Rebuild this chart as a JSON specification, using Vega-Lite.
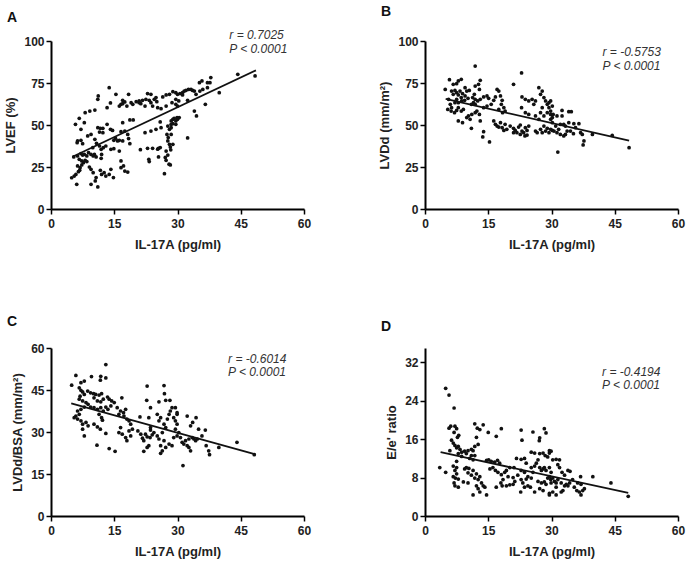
{
"$schema": "https://vega.github.io/schema/vega-lite/v6.json",
"background": "white",
"padding": {"left": 4, "top": 4, "right": 5, "bottom": 5},
"config": {
  "view": {"stroke": null},
  "axis": {"grid": false, "domainColor": "#000", "domainWidth": 2, "tickColor": "#000", "tickWidth": 1.5, "tickSize": 5, "labelFont": "Liberation Sans", "labelFontSize": 12, "labelFontWeight": "bold", "labelColor": "#222", "labelPadding": 2, "titleFont": "Liberation Sans", "titleFontSize": 13, "titleFontWeight": "bold", "titleColor": "#222", "titlePadding": 6},
  "axisX": {"labelFlush": false, "labelPadding": 4, "titlePadding": 9},
  "title": {"font": "Liberation Sans", "fontSize": 14, "fontWeight": "bold", "color": "#111"},
  "text": {"font": "Liberation Sans", "fontSize": 12, "fontStyle": "italic", "color": "#333", "align": "left", "baseline": "middle"}
},
"datasets": {
  "A": [
    {"x":13.8,"y":72.2},{"x":11.2,"y":67.3},{"x":11.1,"y":65.3},{"x":15.4,"y":68.3},{"x":18.4,"y":68.3},{"x":17,"y":64.7},{"x":17.5,"y":63.7},{"x":16.6,"y":62.3},{"x":16.2,"y":61.3},{"x":8.1,"y":57.3},{"x":9.2,"y":58.3},{"x":10.4,"y":58.9},{"x":13.3,"y":60.3},{"x":14.1,"y":63.1},{"x":6.7,"y":54},{"x":5.8,"y":50.4},{"x":7.9,"y":51.4},{"x":7.1,"y":47.4},{"x":11.1,"y":48.4},{"x":11.7,"y":48},{"x":12.3,"y":48},{"x":11.5,"y":45.8},{"x":12.3,"y":45.4},{"x":13.3,"y":50.4},{"x":14.1,"y":47.4},{"x":14.6,"y":46.8},{"x":17,"y":51.4},{"x":18.7,"y":53},{"x":19.5,"y":53},{"x":16.6,"y":46},{"x":17.5,"y":46.4},{"x":18.2,"y":44.4},{"x":18.4,"y":41.9},{"x":18.7,"y":38.9},{"x":15.8,"y":40.5},{"x":16.2,"y":40.9},{"x":17,"y":40.5},{"x":14.9,"y":40.9},{"x":15.3,"y":42.1},{"x":6.3,"y":40.5},{"x":6.2,"y":39.5},{"x":7.5,"y":38.9},{"x":7.1,"y":40.9},{"x":8.7,"y":43.5},{"x":9.5,"y":44.4},{"x":10.4,"y":41.5},{"x":10.8,"y":39.1},{"x":9.9,"y":36.5},{"x":11.5,"y":37.5},{"x":11.9,"y":35.5},{"x":12.4,"y":36.5},{"x":13,"y":37.5},{"x":12,"y":32.5},{"x":11.9,"y":30.2},{"x":14.2,"y":35.5},{"x":14.9,"y":35.9},
    {"x":5.4,"y":31},{"x":6.3,"y":31.6},{"x":7.1,"y":33},{"x":7.5,"y":32.1},{"x":7.9,"y":32.5},{"x":8.5,"y":31.6},{"x":8.9,"y":33.5},{"x":9.5,"y":32.5},{"x":10,"y":31.6},{"x":10.3,"y":32.5},{"x":10.7,"y":31},{"x":6.7,"y":29.6},{"x":7.3,"y":28.6},{"x":7.7,"y":27.6},{"x":8.1,"y":29},{"x":8.5,"y":28.2},{"x":6.3,"y":25.6},{"x":6.9,"y":24.6},{"x":7.3,"y":26.2},{"x":6.8,"y":23},{"x":6.5,"y":22.2},{"x":5.9,"y":20.6},{"x":5.5,"y":19.6},{"x":4.9,"y":18.6},{"x":6.1,"y":14.7},
    {"x":9.5,"y":23.6},{"x":10,"y":21.6},{"x":9.1,"y":25},{"x":11.7,"y":23},{"x":12,"y":20.6},{"x":12.6,"y":21.6},{"x":13,"y":19.6},{"x":13.8,"y":20.6},{"x":14.2,"y":23.6},{"x":14.8,"y":18.7},{"x":9.5,"y":14.7},{"x":10.5,"y":16.7},{"x":11.1,"y":13.1},{"x":10.7,"y":18.7},{"x":16.6,"y":24.6},{"x":17.2,"y":25.6},{"x":17.5,"y":22.6},{"x":18.2,"y":22},{"x":16.2,"y":34.5},{"x":16.6,"y":28.6},
    {"x":21.2,"y":35.3},{"x":22.9,"y":36.1},{"x":24.1,"y":36.1},{"x":25.5,"y":36.1},{"x":23.2,"y":29.6},{"x":23.3,"y":28.2},{"x":25.5,"y":31},{"x":27.3,"y":29},{"x":26.9,"y":21},{"x":28.3,"y":26.2},{"x":22.3,"y":45.4},{"x":23.7,"y":46.4},{"x":24.9,"y":47.4},{"x":26.1,"y":48.4},{"x":25.9,"y":51.8},
    {"x":27.7,"y":49.4},{"x":28.1,"y":47.4},{"x":28.5,"y":48.4},{"x":27.5,"y":44.4},{"x":27.8,"y":42.5},{"x":27.7,"y":40.5},{"x":28.1,"y":38.5},{"x":28.3,"y":36.9},{"x":27.3,"y":34.5},{"x":27.7,"y":32.1},{"x":28.9,"y":38.5},{"x":28.5,"y":44.4},{"x":28.5,"y":52.4},{"x":28.9,"y":53.4},{"x":29.2,"y":54},{"x":29.9,"y":54.4},{"x":30.4,"y":54.4},{"x":28.5,"y":50.4},{"x":28.9,"y":50.8},
    {"x":19,"y":63.3},{"x":20.2,"y":63.9},{"x":20.9,"y":64.3},{"x":21.7,"y":64.7},{"x":22.5,"y":65.3},{"x":23.3,"y":64.7},{"x":23.7,"y":63.3},{"x":24.5,"y":65.3},{"x":25.1,"y":63.9},{"x":26.5,"y":66.7},{"x":27.3,"y":67.9},{"x":28.1,"y":68.3},{"x":28.9,"y":69.8},{"x":22.9,"y":68.7},{"x":23.7,"y":68.3},{"x":24.9,"y":66.3},{"x":24.1,"y":61.3},{"x":25.3,"y":60.3},{"x":26.1,"y":59.7},{"x":27.3,"y":61.3},{"x":28.7,"y":63.3},{"x":17,"y":62.7},{"x":18,"y":61.3},{"x":19.4,"y":62.3},{"x":20.9,"y":63.3},{"x":21.3,"y":62.7},{"x":22.3,"y":61.3},
    {"x":29.6,"y":69.2},{"x":30,"y":68.3},{"x":30.6,"y":68.7},{"x":31.2,"y":69.2},{"x":31.6,"y":70.2},{"x":32,"y":70.6},{"x":32.6,"y":71.2},{"x":33.2,"y":71.2},{"x":33.6,"y":70.6},{"x":34,"y":70.2},{"x":29.6,"y":65.3},{"x":30.3,"y":64.3},{"x":31.2,"y":67.9},{"x":32.4,"y":64.7},{"x":29.6,"y":62.3},{"x":30,"y":61.3},{"x":29.6,"y":52.4},{"x":30,"y":53.4},{"x":29.6,"y":50.4},
    {"x":35.2,"y":75.2},{"x":35.8,"y":76.2},{"x":37.1,"y":75.2},{"x":37.7,"y":75.2},{"x":37.9,"y":78.2},{"x":37.1,"y":72.2},{"x":36,"y":71.2},{"x":34,"y":58.3},{"x":34.5,"y":55.4},{"x":32.4,"y":42.3},{"x":36.6,"y":62.3},{"x":39.9,"y":69.2},{"x":44.3,"y":80.2},{"x":48.4,"y":79.2},{"x":34.4,"y":68.3},{"x":35.3,"y":70.2},
    {"x":27.1,"y":30.7},{"x":28,"y":26.7},{"x":28.4,"y":35.2},{"x":25.3,"y":35.6},{"x":25.9,"y":36.6}
  ],
  "A_line": [{"x":5.1,"y":31.1},{"x":48.6,"y":82.5}],
  "B": [
    {"x":11.9,"y":85.1},{"x":22.9,"y":81},{"x":21,"y":74.2},{"x":5.8,"y":77},{"x":7.9,"y":76.2},{"x":8.6,"y":77.2},{"x":4.8,"y":71.2},{"x":6.7,"y":74.2},{"x":7.5,"y":74.6},
    {"x":6.3,"y":70.2},{"x":7.1,"y":70.6},{"x":7.5,"y":69.2},{"x":6.7,"y":68.3},{"x":7.9,"y":67.9},{"x":8.3,"y":70.2},{"x":8.9,"y":68.7},{"x":9.5,"y":72.2},{"x":9.9,"y":70.2},{"x":10.5,"y":70.6},{"x":9.5,"y":67.3},{"x":8.6,"y":66.3},{"x":7.5,"y":65.3},{"x":7.1,"y":63.3},{"x":7.9,"y":63.3},{"x":8.7,"y":64.3},{"x":9.4,"y":64.7},{"x":10.2,"y":65.9},
    {"x":11.9,"y":73.2},{"x":12.7,"y":74.2},{"x":13.1,"y":76.6},{"x":12.9,"y":71.2},{"x":11.7,"y":68.3},{"x":11.3,"y":66.3},{"x":11.9,"y":65.3},{"x":12.5,"y":64.3},{"x":13.1,"y":65.3},{"x":13.9,"y":66.7},{"x":14.7,"y":67.3},{"x":15.1,"y":65.9},{"x":11.5,"y":63.3},{"x":11,"y":62.3},{"x":11.9,"y":62.3},
    {"x":5.6,"y":65.3},{"x":6,"y":62.3},{"x":6.3,"y":60.3},{"x":5.4,"y":59.3},{"x":6.2,"y":58.3},{"x":7,"y":57.3},{"x":7.5,"y":58.7},{"x":7.9,"y":60.3},{"x":8.6,"y":58.3},{"x":9.1,"y":59.3},{"x":7.9,"y":52.4},{"x":8.9,"y":51.4},
    {"x":9.9,"y":54.4},{"x":10.3,"y":55.4},{"x":11.1,"y":56.3},{"x":11.9,"y":57.3},{"x":12.3,"y":58.3},{"x":12.9,"y":56.3},{"x":10.7,"y":53.4},{"x":13.1,"y":52.4},{"x":11,"y":48},{"x":13.9,"y":46},{"x":13.7,"y":42.9},{"x":15.3,"y":39.9},
    {"x":13.9,"y":60.3},{"x":14.7,"y":61.3},{"x":15.7,"y":62.3},{"x":16.3,"y":64.7},{"x":16.7,"y":66.7},{"x":17.1,"y":71.2},{"x":17.5,"y":70.2},{"x":17.9,"y":67.3},{"x":18.3,"y":64.7},{"x":18.1,"y":62.3},{"x":18.7,"y":60.3},{"x":19,"y":58.3},{"x":18.4,"y":57.3},{"x":17.5,"y":59.3},
    {"x":16.3,"y":52.4},{"x":16.7,"y":50.4},{"x":17.1,"y":49.4},{"x":17.9,"y":51.4},{"x":18.3,"y":48.4},{"x":19,"y":50.4},{"x":19.4,"y":47.4},{"x":18.7,"y":46.8},{"x":17.5,"y":48.8},
    {"x":20.2,"y":49.4},{"x":21,"y":48},{"x":21.4,"y":46.8},{"x":22.2,"y":48.8},{"x":22.6,"y":50},{"x":23,"y":46.4},{"x":23.4,"y":45.4},{"x":23.8,"y":48.4},{"x":24.2,"y":46.8},{"x":24.6,"y":49.4},{"x":21.8,"y":45.4},{"x":22.6,"y":44.4},{"x":23.7,"y":43.5},{"x":24.2,"y":44},{"x":21,"y":45.4},
    {"x":23,"y":66.7},{"x":23.8,"y":65.3},{"x":24.6,"y":64.3},{"x":22.9,"y":60.3},{"x":23.8,"y":57.3},{"x":24.6,"y":56.3},{"x":25.8,"y":62.3},{"x":25.4,"y":65.3},{"x":26.2,"y":64.3},{"x":27,"y":72.2},{"x":27.4,"y":68.3},{"x":27.8,"y":70.2},{"x":28.2,"y":66.3},{"x":28.6,"y":64.3},{"x":29,"y":62.3},{"x":29.4,"y":63.3},{"x":27.8,"y":60.3},{"x":27.4,"y":57.3},{"x":26.2,"y":55.4},{"x":27,"y":53.4},{"x":28.2,"y":55.4},{"x":29,"y":57.3},{"x":29.4,"y":60.3},{"x":29.8,"y":56.3},{"x":30.2,"y":54.4},
    {"x":26.2,"y":46.4},{"x":26.6,"y":45.4},{"x":27.4,"y":47.4},{"x":27.8,"y":45.4},{"x":28.6,"y":46.4},{"x":29,"y":48},{"x":29.4,"y":45.4},{"x":30.2,"y":46.8},{"x":28.2,"y":49.4},
    {"x":29.8,"y":64.3},{"x":30.2,"y":61.3},{"x":29.8,"y":58.3},{"x":30.4,"y":56.3},{"x":29.8,"y":53.4},{"x":30.2,"y":51.4},{"x":31,"y":49.4},{"x":29.8,"y":47.4},{"x":30.6,"y":46.4},{"x":31.3,"y":45.4},{"x":32.1,"y":44.4},{"x":32.9,"y":43.5},{"x":33.3,"y":44.4},{"x":33.7,"y":46.4},{"x":31.7,"y":47.4},{"x":32.1,"y":50.4},{"x":32.9,"y":50.4},{"x":32.5,"y":55.4},{"x":31.3,"y":55.4},
    {"x":32.5,"y":58.7},{"x":34.1,"y":57.9},{"x":34.7,"y":57.9},{"x":35.3,"y":50.8},{"x":36.5,"y":50.8},{"x":35.7,"y":48.4},{"x":36.9,"y":45.4},{"x":37.3,"y":44.4},{"x":37.7,"y":40.5},{"x":37.5,"y":38.1},{"x":39.7,"y":44.4},{"x":44.4,"y":43.8},{"x":48.4,"y":36.5},{"x":31.5,"y":33.9},{"x":34.5,"y":46.4},{"x":35.2,"y":44.8},{"x":34.1,"y":51.4},{"x":33.3,"y":49.4}
  ],
  "B_line": [{"x":4.9,"y":65.5},{"x":48.4,"y":40.7}],
  "C": [
    {"x":13,"y":54.1},{"x":5.9,"y":50.2},{"x":7.9,"y":48.2},{"x":7.1,"y":47.6},{"x":9.6,"y":49.8},{"x":11.8,"y":49.9},{"x":11.7,"y":48.5},{"x":13,"y":49.3},{"x":4.9,"y":46.7},
    {"x":6.7,"y":45.8},{"x":7.1,"y":44.9},{"x":7.5,"y":44.3},{"x":8.7,"y":44.6},{"x":7.9,"y":43.4},{"x":6.9,"y":42.8},{"x":6.7,"y":41.7},
    {"x":9.4,"y":44},{"x":10.1,"y":43.7},{"x":10.6,"y":43.4},{"x":11.4,"y":43.2},{"x":12,"y":43.7},{"x":10.2,"y":42.2},{"x":11,"y":41.1},{"x":11.8,"y":40.8},{"x":12.4,"y":41.7},{"x":13.4,"y":42.5},{"x":13.8,"y":41.7},{"x":14.4,"y":41.1},{"x":15,"y":40.5},
    {"x":7.5,"y":41.1},{"x":8.3,"y":40.5},{"x":8.8,"y":39.9},{"x":9.4,"y":38.9},{"x":7.9,"y":38.9},{"x":7.1,"y":38.1},{"x":6.3,"y":37.5},{"x":6.7,"y":36.3},{"x":5.9,"y":35.7},{"x":5.5,"y":35.1},{"x":6.3,"y":34.6},{"x":7.1,"y":34},{"x":7.5,"y":32.8},{"x":8.3,"y":33.4},{"x":8.8,"y":32.2},{"x":7.5,"y":31},{"x":7.9,"y":28.6},
    {"x":10.2,"y":38.7},{"x":11,"y":38.1},{"x":11.8,"y":38.7},{"x":12.4,"y":37.5},{"x":13,"y":38.9},{"x":13.5,"y":38.1},{"x":14.2,"y":39.3},{"x":11.4,"y":36.3},{"x":12,"y":35.1},{"x":12.2,"y":34.2},{"x":10.2,"y":32.8},{"x":11,"y":31.8},{"x":11.7,"y":31},{"x":13,"y":29.5},{"x":10.9,"y":25.3},{"x":13.8,"y":24.1},{"x":15.2,"y":23.1},{"x":16.8,"y":42.2},
    {"x":15.7,"y":38.7},{"x":16.5,"y":37.5},{"x":16.1,"y":36.3},{"x":17.2,"y":36.9},{"x":17.7,"y":38.1},{"x":17.3,"y":35.7},{"x":18,"y":34.6},{"x":18.5,"y":34},{"x":18.9,"y":32.8},{"x":16.5,"y":31.6},{"x":16.1,"y":29.8},{"x":16.9,"y":29.2},{"x":17.7,"y":28},{"x":18.5,"y":30.4},{"x":19.3,"y":31},{"x":18,"y":26.9},{"x":18.9,"y":28.6},
    {"x":21.1,"y":35.4},{"x":20.6,"y":30.4},{"x":21.3,"y":29.2},{"x":21.7,"y":27.8},{"x":22.4,"y":29.2},{"x":22.8,"y":28.3},{"x":22,"y":26.9},{"x":23.5,"y":28},{"x":24,"y":29},{"x":23.6,"y":30.7},{"x":24.4,"y":29.8},{"x":23.2,"y":25.1},{"x":22.8,"y":24.5},{"x":22,"y":23.1},{"x":23.6,"y":31.6},{"x":23.2,"y":35.1},
    {"x":22.8,"y":46.4},{"x":26.8,"y":46.6},{"x":26.9,"y":43.7},{"x":27.2,"y":41.3},{"x":28.2,"y":41.3},{"x":25.6,"y":40.8},{"x":22.7,"y":41.3},{"x":23.6,"y":38.7},
    {"x":25.2,"y":36.3},{"x":26,"y":35.1},{"x":25.6,"y":34},{"x":26.8,"y":32.8},{"x":27.6,"y":34.6},{"x":28,"y":36.3},{"x":28.3,"y":37.5},{"x":28.7,"y":38.7},{"x":29.5,"y":38.7},{"x":29.9,"y":36.9},{"x":29.1,"y":35.1},{"x":27.2,"y":31.6},{"x":26.4,"y":29.8},{"x":25.2,"y":28.6},{"x":25.6,"y":27.5},{"x":26.8,"y":26.9},{"x":26,"y":25.1},{"x":27.2,"y":24.5},{"x":28,"y":25.7},{"x":28.7,"y":25.1},{"x":26.4,"y":23.3},{"x":26,"y":22.4},{"x":29.1,"y":28},{"x":29.9,"y":28.6},
    {"x":29.9,"y":36.3},{"x":29.5,"y":34},{"x":29.9,"y":32.8},{"x":29.5,"y":31},{"x":30.3,"y":29.8},{"x":30.7,"y":28},{"x":31.1,"y":26.3},{"x":31.5,"y":25.7},{"x":32.3,"y":25.1},{"x":32.7,"y":24.5},{"x":33.1,"y":23.3},{"x":31.9,"y":26.9},{"x":32.7,"y":27.5},{"x":33.5,"y":28},{"x":33.9,"y":27.5},{"x":34.3,"y":26.9},{"x":34.7,"y":27.5},
    {"x":32.3,"y":35.7},{"x":33.1,"y":32.2},{"x":33.6,"y":33.4},{"x":34.4,"y":35.1},{"x":35,"y":31},{"x":35.8,"y":28.6},{"x":36.6,"y":30.7},{"x":36.8,"y":25.1},{"x":37.4,"y":23.3},{"x":37.6,"y":21.9},{"x":39.8,"y":24.5},{"x":44.1,"y":26.3},{"x":48.2,"y":21.9},{"x":31.3,"y":18}
  ],
  "C_line": [{"x":4.8,"y":40.2},{"x":48.5,"y":22.0}],
  "D": [
    {"x":4.9,"y":26.6},{"x":5.7,"y":25.2},{"x":6.9,"y":22.5},{"x":5.7,"y":18.3},{"x":6.1,"y":18.7},{"x":7.1,"y":18.7},{"x":7.5,"y":18.2},{"x":6.9,"y":17.4},{"x":7.7,"y":16.4},{"x":8,"y":16.8},
    {"x":11.8,"y":19.2},{"x":12.4,"y":18.3},{"x":13,"y":18},{"x":13.8,"y":19},{"x":15,"y":17.4},{"x":18.1,"y":18.2},{"x":16.9,"y":16.6},{"x":22.8,"y":17.9},{"x":25.6,"y":17.5},{"x":28.3,"y":18.2},{"x":23,"y":15.8},{"x":27.2,"y":16.3},
    {"x":6.3,"y":15.8},{"x":6.7,"y":15.2},{"x":7.1,"y":14.7},{"x":7.5,"y":14.2},{"x":7.9,"y":14.5},{"x":8.3,"y":13.9},{"x":8.7,"y":13.3},{"x":9.4,"y":13.5},{"x":9.8,"y":13},{"x":10.2,"y":13.6},{"x":11,"y":13.9},{"x":7.9,"y":13},{"x":8.7,"y":12.4},
    {"x":12.2,"y":16.4},{"x":12.6,"y":14.9},{"x":11.8,"y":14.5},{"x":11.4,"y":13.6},{"x":11,"y":12.6},{"x":10.6,"y":12},{"x":11.8,"y":12.6},{"x":11.4,"y":11.7},
    {"x":5.9,"y":13.6},{"x":7.5,"y":11.4},{"x":6.7,"y":10.4},{"x":7.5,"y":10.1},{"x":7.1,"y":9.5},{"x":7.5,"y":8.8},{"x":6.7,"y":8.2},{"x":7.2,"y":7.9},{"x":7.9,"y":7.7},{"x":6.9,"y":6.9},{"x":7.1,"y":6.3},{"x":7.9,"y":6},{"x":3.5,"y":10.1},{"x":4.9,"y":9.1},
    {"x":9.4,"y":9.8},{"x":9.8,"y":10.1},{"x":10.4,"y":9.9},{"x":10.2,"y":9},{"x":11,"y":8.5},{"x":11.4,"y":9.5},{"x":11.8,"y":7.9},{"x":12.2,"y":8.8},{"x":12.6,"y":7.6},{"x":13,"y":8.2},{"x":13.4,"y":6.9},{"x":13.8,"y":6.3},{"x":14.2,"y":6},{"x":14.6,"y":4.4},{"x":12.6,"y":5.7},{"x":12.2,"y":6.3},{"x":13,"y":5},{"x":11.4,"y":4.4},{"x":10.2,"y":6.9},{"x":9.1,"y":7.1},
    {"x":14.6,"y":11.6},{"x":15.1,"y":11.7},{"x":15.7,"y":11.4},{"x":16.5,"y":11.2},{"x":17.2,"y":11.6},{"x":17.7,"y":11},{"x":15.4,"y":9.8},{"x":16.1,"y":10.1},{"x":16.7,"y":9.5},{"x":17.3,"y":9.1},{"x":18.1,"y":8.6},{"x":18.9,"y":9.1},{"x":19.3,"y":9.5},{"x":18.5,"y":7.6},{"x":18,"y":6.9},{"x":18.3,"y":6.3},{"x":16.9,"y":6},{"x":19.3,"y":6.3},{"x":20.1,"y":6.5},{"x":20.9,"y":6.6},{"x":21.3,"y":7.2},{"x":20.9,"y":8},{"x":19.7,"y":8.2},
    {"x":20.1,"y":10.1},{"x":21.1,"y":10.1},{"x":21.7,"y":12},{"x":22.8,"y":11.8},{"x":23.6,"y":12},{"x":24,"y":11},{"x":23.6,"y":9.1},{"x":22.8,"y":9.5},{"x":22,"y":8.5},{"x":22.8,"y":7.6},{"x":23.2,"y":6.9},{"x":24.4,"y":8.2},{"x":25.2,"y":7.9},{"x":25.6,"y":9.1},{"x":25.2,"y":10.1},{"x":26,"y":10.4},{"x":26.4,"y":11},{"x":26.8,"y":11.7},{"x":27.2,"y":10.1},{"x":27.6,"y":9.5},{"x":28,"y":9.8},{"x":28.3,"y":10.1},{"x":28.7,"y":9.5},{"x":26.8,"y":7.2},{"x":27.6,"y":6.9},{"x":28.3,"y":7.1},{"x":28.7,"y":6.6},{"x":28,"y":5.3},{"x":27.2,"y":5.7},{"x":26,"y":5},{"x":25,"y":6},{"x":24.4,"y":6.3},{"x":23.6,"y":6},{"x":22.7,"y":5},{"x":24,"y":7.7},{"x":29.1,"y":7.9},{"x":29.8,"y":7.6},{"x":29.9,"y":6.9},{"x":29.5,"y":4.4},{"x":25.2,"y":13.3},{"x":26,"y":13.1},{"x":27.2,"y":13},{"x":28,"y":13.1},{"x":28.5,"y":12.6},{"x":29.5,"y":13.1},{"x":29.9,"y":13.5},{"x":29.1,"y":12.3},{"x":30.3,"y":11.7},
    {"x":29.5,"y":13.6},{"x":31.1,"y":11.8},{"x":31.9,"y":11.7},{"x":31.5,"y":10.7},{"x":31.9,"y":10.1},{"x":32.5,"y":9.1},{"x":33.9,"y":9.5},{"x":34.4,"y":9.3},{"x":33.1,"y":8.5},{"x":29.5,"y":10.1},{"x":29.9,"y":9.1},{"x":29.5,"y":8.2},{"x":30.3,"y":7.9},{"x":30.7,"y":7.2},{"x":31.1,"y":6.9},{"x":31.5,"y":7.6},{"x":32.3,"y":6.9},{"x":33.1,"y":6.3},{"x":33.5,"y":6.6},{"x":31.1,"y":6},{"x":32.7,"y":5.3},{"x":30.3,"y":5},{"x":29.5,"y":4.7},{"x":31.1,"y":4.4},{"x":32.3,"y":5},{"x":33.9,"y":6.3},{"x":34.3,"y":6.9},
    {"x":35.4,"y":6},{"x":36,"y":5.3},{"x":36.6,"y":5},{"x":37,"y":4.4},{"x":37.4,"y":5.3},{"x":37.8,"y":5.7},{"x":37,"y":6.6},{"x":36.2,"y":6.9},{"x":35,"y":7.6},{"x":36.9,"y":8.2},{"x":39.8,"y":8.2},{"x":44.1,"y":6.9},{"x":48.2,"y":4.1},{"x":28.7,"y":17.3},{"x":27.1,"y":15.7}
  ],
  "D_line": [{"x":3.7,"y":13.3},{"x":48.2,"y":4.8}]
},
"columns": 2,
"bounds": "flush",
"spacing": {"row": 139, "column": 121},
"concat": [
  {
    "width": 253, "height": 168,
    "title": {"text": "A", "anchor": "start", "frame": "group", "dx": -44, "offset": 4},
    "layer": [
      {"data": {"name": "A"}, "mark": {"type": "circle", "size": 14, "opacity": 1, "color": "#111"},
       "encoding": {"x": {"field": "x", "type": "quantitative", "scale": {"domain": [0, 60]}, "axis": {"values": [0, 15, 30, 45, 60], "title": "IL-17A (pg/ml)"}},
                    "y": {"field": "y", "type": "quantitative", "scale": {"domain": [0, 100]}, "axis": {"values": [0, 25, 50, 75, 100], "title": "LVEF (%)"}}}},
      {"data": {"name": "A_line"}, "mark": {"type": "line", "color": "#111", "strokeWidth": 1.8},
       "encoding": {"x": {"field": "x", "type": "quantitative"}, "y": {"field": "y", "type": "quantitative"}}},
      {"data": {"values": [{}]}, "mark": {"type": "text", "text": "r = 0.7025", "clip": false}, "encoding": {"x": {"datum": 42.3}, "y": {"datum": 103.6}}},
      {"data": {"values": [{}]}, "mark": {"type": "text", "text": "P < 0.0001", "clip": false}, "encoding": {"x": {"datum": 42.3}, "y": {"datum": 95.2}}}
    ]
  },
  {
    "width": 253, "height": 168,
    "title": {"text": "B", "anchor": "start", "frame": "group", "dx": -44, "offset": 16.5},
    "layer": [
      {"data": {"name": "B"}, "mark": {"type": "circle", "size": 14, "opacity": 1, "color": "#111"},
       "encoding": {"x": {"field": "x", "type": "quantitative", "scale": {"domain": [0, 60]}, "axis": {"values": [0, 15, 30, 45, 60], "title": "IL-17A (pg/ml)"}},
                    "y": {"field": "y", "type": "quantitative", "scale": {"domain": [0, 100]}, "axis": {"values": [0, 25, 50, 75, 100], "title": "LVDd (mm/m²)"}}}},
      {"data": {"name": "B_line"}, "mark": {"type": "line", "color": "#111", "strokeWidth": 1.8},
       "encoding": {"x": {"field": "x", "type": "quantitative"}, "y": {"field": "y", "type": "quantitative"}}},
      {"data": {"values": [{}]}, "mark": {"type": "text", "text": "r = -0.5753", "clip": false}, "encoding": {"x": {"datum": 42.1}, "y": {"datum": 93.6}}},
      {"data": {"values": [{}]}, "mark": {"type": "text", "text": "P < 0.0001", "clip": false}, "encoding": {"x": {"datum": 42.1}, "y": {"datum": 85.1}}}
    ]
  },
  {
    "width": 253, "height": 168,
    "title": {"text": "C", "anchor": "start", "frame": "group", "dx": -44, "offset": 13},
    "layer": [
      {"data": {"name": "C"}, "mark": {"type": "circle", "size": 14, "opacity": 1, "color": "#111"},
       "encoding": {"x": {"field": "x", "type": "quantitative", "scale": {"domain": [0, 60]}, "axis": {"values": [0, 15, 30, 45, 60], "title": "IL-17A (pg/ml)"}},
                    "y": {"field": "y", "type": "quantitative", "scale": {"domain": [0, 60]}, "axis": {"values": [0, 15, 30, 45, 60], "title": "LVDd/BSA (mm/m²)"}}}},
      {"data": {"name": "C_line"}, "mark": {"type": "line", "color": "#111", "strokeWidth": 1.8},
       "encoding": {"x": {"field": "x", "type": "quantitative"}, "y": {"field": "y", "type": "quantitative"}}},
      {"data": {"values": [{}]}, "mark": {"type": "text", "text": "r = -0.6014", "clip": false}, "encoding": {"x": {"datum": 42.0}, "y": {"datum": 56.1}}},
      {"data": {"values": [{}]}, "mark": {"type": "text", "text": "P < 0.0001", "clip": false}, "encoding": {"x": {"datum": 42.0}, "y": {"datum": 51.3}}}
    ]
  },
  {
    "width": 253, "height": 168,
    "title": {"text": "D", "anchor": "start", "frame": "group", "dx": -44, "offset": 14},
    "layer": [
      {"data": {"name": "D"}, "mark": {"type": "circle", "size": 14, "opacity": 1, "color": "#111"},
       "encoding": {"x": {"field": "x", "type": "quantitative", "scale": {"domain": [0, 60]}, "axis": {"values": [0, 15, 30, 45, 60], "title": "IL-17A (pg/ml)"}},
                    "y": {"field": "y", "type": "quantitative", "scale": {"domain": [0, 32]}, "axis": {"values": [0, 8, 16, 24, 32], "title": "E/e' ratio"}}}},
      {"data": {"name": "D_line"}, "mark": {"type": "line", "color": "#111", "strokeWidth": 1.8},
       "encoding": {"x": {"field": "x", "type": "quantitative"}, "y": {"field": "y", "type": "quantitative"}}},
      {"data": {"values": [{}]}, "mark": {"type": "text", "text": "r = -0.4194", "clip": false}, "encoding": {"x": {"datum": 42.0}, "y": {"datum": 29.9}}},
      {"data": {"values": [{}]}, "mark": {"type": "text", "text": "P < 0.0001", "clip": false}, "encoding": {"x": {"datum": 42.0}, "y": {"datum": 27.3}}}
    ]
  }
]
}
